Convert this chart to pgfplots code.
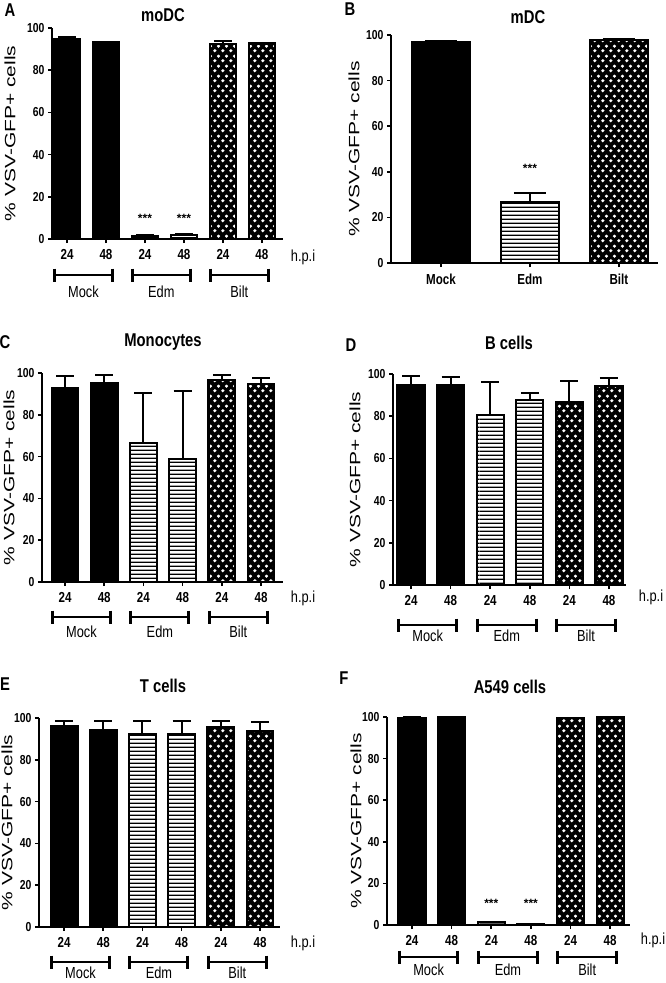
\documentclass[border=0pt]{standalone}
\usepackage{pgfplots}
\pgfplotsset{compat=1.18}
\usepackage{fontspec}
\setmainfont{Liberation Sans}
\newfontfamily\cond[FakeStretch=0.8]{Liberation Sans}
\usetikzlibrary{patterns}

% horizontal lines (Edm), wide tile to avoid seams
\pgfdeclarepatternformonly{hlines}{\pgfqpoint{0pt}{0pt}}{\pgfqpoint{120pt}{4.2pt}}{\pgfqpoint{120pt}{4.2pt}}{%
  \pgfpathrectangle{\pgfqpoint{0pt}{1.45pt}}{\pgfqpoint{120pt}{1.3pt}}%
  \pgfusepath{fill}}
% white diamonds on black (Bilt)
\pgfdeclarepatternformonly{wdots}{\pgfqpoint{0pt}{0pt}}{\pgfqpoint{7.6pt}{10pt}}{\pgfqpoint{7.6pt}{10pt}}{%
  \pgfpathmoveto{\pgfqpoint{1.9pt}{0.7pt}}\pgfpathlineto{\pgfqpoint{3.7pt}{2.5pt}}%
  \pgfpathlineto{\pgfqpoint{1.9pt}{4.3pt}}\pgfpathlineto{\pgfqpoint{0.1pt}{2.5pt}}\pgfpathclose
  \pgfpathmoveto{\pgfqpoint{5.7pt}{5.7pt}}\pgfpathlineto{\pgfqpoint{7.5pt}{7.5pt}}%
  \pgfpathlineto{\pgfqpoint{5.7pt}{9.3pt}}\pgfpathlineto{\pgfqpoint{3.9pt}{7.5pt}}\pgfpathclose
  \pgfusepath{fill}}

\newcommand\ynumf{\cond\bfseries\fontsize{13}{13}\selectfont}
\newcommand\xcatf{\cond\bfseries\fontsize{14.5}{14.5}\selectfont}
\newcommand\labf{\cond\fontsize{16}{16}\selectfont}
\newcommand\titf{\cond\bfseries\fontsize{18.5}{18.5}\selectfont}
\newcommand\starf{\bfseries\fontsize{12}{12}\selectfont}

\pgfplotsset{
  panel/.style={
    scale only axis, clip=false,
    ymin=0, ymax=100, ytick={0,20,40,60,80,100},
    axis lines*=left,
    axis line style={line width=2pt},
    tick style={line width=1.6pt, black},
    major tick length=4pt, tick align=outside,
    /pgf/number format/assume math mode=true,
    yticklabel style={font=\ynumf},
    xticklabel style={font=\xcatf, yshift=-3pt},
    ylabel={\scalebox{1.4}[1]{\fontsize{15}{15}\selectfont\% VSV-GFP+ cells}},
    error bars/y dir=plus, error bars/y explicit,
    error bars/error bar style={line width=2pt},
    error bars/error mark options={rotate=90, line width=2pt, mark size=9pt},
  },
  six/.style={panel, xtick={1,2,3,4,5,6}, xticklabels={24,48,24,48,24,48}, bar width=0.68},
  mock/.style={ybar, bar shift=0pt, fill=black, draw=black, line width=2.2pt},
  edm/.style={ybar, bar shift=0pt, fill=white, draw=black, line width=2.2pt, postaction={pattern=hlines}},
  bilt/.style={ybar, bar shift=0pt, fill=black, draw=black, line width=2.2pt, postaction={pattern=wdots, pattern color=white}},
  ylab/.style={ylabel style={at={([xshift=-#1]axis description cs:0,0.5)}, anchor=center}},
}

\newcommand\grp[5]{%
  \draw[line width=2.6pt] ([yshift=-#4]axis cs:#1,0) -- ([yshift=-#4]axis cs:#2,0);
  \draw[line width=3pt] ([yshift=-#4+6.5pt]axis cs:#1,0) -- ([yshift=-#4-6.5pt]axis cs:#1,0);
  \draw[line width=3pt] ([yshift=-#4+6.5pt]axis cs:#2,0) -- ([yshift=-#4-6.5pt]axis cs:#2,0);
  \node[font=\labf] at ([yshift=-#5]axis cs:{(#1+#2)/2},0) {#3};
}
\newcommand\groups[2]{%
  \grp{0.68}{2.16}{Mock}{#1}{#2}
  \grp{2.68}{4.16}{Edm}{#1}{#2}
  \grp{4.68}{6.16}{Bilt}{#1}{#2}
}

\begin{document}
\begin{tikzpicture}
\path[use as bounding box] (0,0) rectangle (666pt,-983pt);

% ---------- A: moDC ----------
\begin{axis}[six, ylab=42pt, at={(52pt,-239pt)}, anchor=south west,
  width=231pt, height=211pt, xmin=0.615, xmax=6.54]
\addplot[mock] table[x=x, y=y, y error=e, row sep=\\] {x y e\\ 1 94.8 1.1\\ 2 93.2 0.3\\};
\addplot[edm] table[x=x, y=y, y error=e, row sep=\\] {x y e\\ 3 1.6 0.3\\ 4 2.0 0.3\\};
\addplot[bilt] table[x=x, y=y, y error=e, row sep=\\] {x y e\\ 5 92.4 1.6\\ 6 92.7 0.3\\};
\node[font=\starf] at (axis cs:3,10) {***};
\node[font=\starf] at (axis cs:4,10) {***};
\groups{36pt}{53pt}
\end{axis}
\node[font=\titf] at (163pt,-15pt) {moDC};
\node[font=\titf] at (10pt,-10pt) {A};
\node[font=\labf] at (303pt,-257pt) {h.p.i};

% ---------- B: mDC ----------
\begin{axis}[panel, ylab=37pt, at={(391pt,-263pt)}, anchor=south west,
  width=267pt, height=228pt, xmin=0.438, xmax=3.44,
  xtick={1,2,3}, xticklabels={Mock,Edm,Bilt}, bar width=0.65,
  error bars/error mark options={rotate=90, line width=2pt, mark size=16pt}]
\addplot[mock] table[x=x, y=y, y error=e, row sep=\\] {x y e\\ 1 96.8 0.6\\};
\addplot[edm] table[x=x, y=y, y error=e, row sep=\\] {x y e\\ 2 26.9 3.7\\};
\addplot[bilt] table[x=x, y=y, y error=e, row sep=\\] {x y e\\ 3 97.8 0.4\\};
\node[font=\starf] at (axis cs:2,41.7) {***};
\end{axis}
\node[font=\titf] at (528pt,-17pt) {mDC};
\node[font=\titf] at (350pt,-9pt) {B};

% ---------- C: Monocytes ----------
\begin{axis}[six, ylab=33pt, at={(42pt,-582pt)}, anchor=south west,
  width=241pt, height=209pt, xmin=0.413, xmax=6.56]
\addplot[mock] table[x=x, y=y, y error=e, row sep=\\] {x y e\\ 1 93.0 5.6\\ 2 95.4 3.6\\};
\addplot[edm] table[x=x, y=y, y error=e, row sep=\\] {x y e\\ 3 66.7 23.7\\ 4 59.0 32.2\\};
\addplot[bilt] table[x=x, y=y, y error=e, row sep=\\] {x y e\\ 5 96.7 2.2\\ 6 94.9 2.9\\};
\groups{35pt}{50pt}
\end{axis}
\node[font=\titf] at (163pt,-342pt) {Monocytes};
\node[font=\titf] at (5pt,-342pt) {C};
\node[font=\labf] at (303pt,-598pt) {h.p.i};

% ---------- D: B cells ----------
\begin{axis}[six, ylab=38pt, at={(393pt,-585pt)}, anchor=south west,
  width=233pt, height=211pt, xmin=0.545, xmax=6.43]
\addplot[mock] table[x=x, y=y, y error=e, row sep=\\] {x y e\\ 1 94.9 4.0\\ 2 94.9 3.5\\};
\addplot[edm] table[x=x, y=y, y error=e, row sep=\\] {x y e\\ 3 80.5 15.7\\ 4 87.5 3.5\\};
\addplot[bilt] table[x=x, y=y, y error=e, row sep=\\] {x y e\\ 5 86.6 10.2\\ 6 94.5 3.4\\};
\groups{40pt}{51pt}
\end{axis}
\node[font=\titf] at (509pt,-343pt) {B cells};
\node[font=\titf] at (351pt,-345pt) {D};
\node[font=\labf] at (651pt,-597pt) {h.p.i};

% ---------- E: T cells ----------
\begin{axis}[six, ylab=32pt, at={(39pt,-927pt)}, anchor=south west,
  width=241pt, height=209pt, xmin=0.36, xmax=6.51]
\addplot[mock] table[x=x, y=y, y error=e, row sep=\\] {x y e\\ 1 96.0 2.4\\ 2 94.4 4.0\\};
\addplot[edm] table[x=x, y=y, y error=e, row sep=\\] {x y e\\ 3 92.3 6.1\\ 4 92.3 6.1\\};
\addplot[bilt] table[x=x, y=y, y error=e, row sep=\\] {x y e\\ 5 95.7 2.7\\ 6 93.6 4.3\\};
\groups{35pt}{46pt}
\end{axis}
\node[font=\titf] at (163pt,-686pt) {T cells};
\node[font=\titf] at (5pt,-684pt) {E};
\node[font=\labf] at (303pt,-943pt) {h.p.i};

% ---------- F: A549 cells ----------
\begin{axis}[six, ylab=31pt, at={(387pt,-925pt)}, anchor=south west,
  width=243pt, height=208pt, xmin=0.37, xmax=6.5]
\addplot[mock] table[x=x, y=y, y error=e, row sep=\\] {x y e\\ 1 99.7 0.1\\ 2 99.9 0.1\\};
\addplot[edm] table[x=x, y=y, y error=e, row sep=\\] {x y e\\ 3 1.3 0.3\\ 4 0.2 0.1\\};
\addplot[bilt] table[x=x, y=y, y error=e, row sep=\\] {x y e\\ 5 99.5 0.2\\ 6 99.9 0.1\\};
\node[font=\starf] at (axis cs:3,10.6) {***};
\node[font=\starf] at (axis cs:4,10.6) {***};
\groups{32pt}{45pt}
\end{axis}
\node[font=\titf] at (510pt,-687pt) {A549 cells};
\node[font=\titf] at (344pt,-678pt) {F};
\node[font=\labf] at (653pt,-940pt) {h.p.i};
\end{tikzpicture}
\end{document}
